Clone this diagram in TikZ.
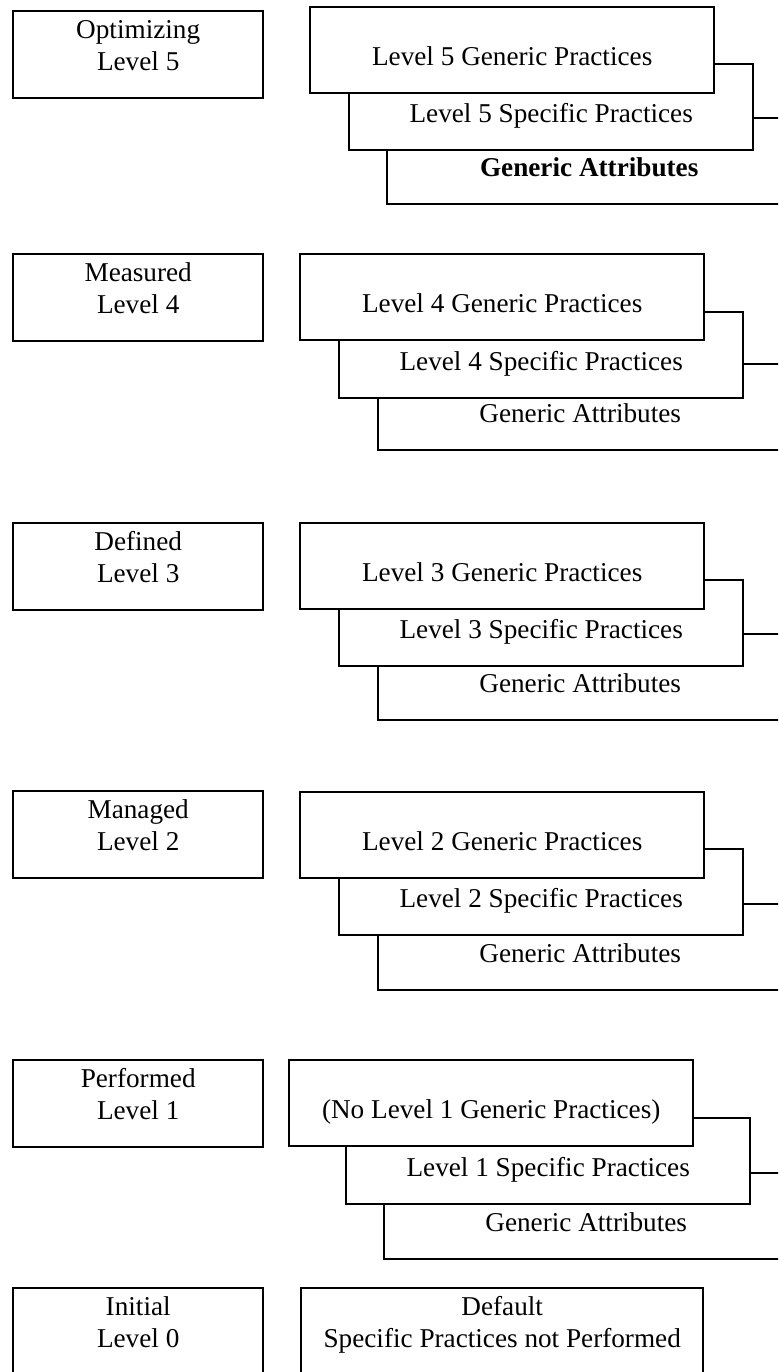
\documentclass[tikz,border=0pt]{standalone}
\usepackage{fontspec}
\setmainfont{Liberation Serif}
\tikzset{
  stage/.style={draw, line width=1.2pt, fill=white, anchor=north west, inner sep=0pt,
    text width=125pt, align=flush center, text height=13.75pt, text depth=29.75pt},
  practice/.style={draw, line width=1.2pt, fill=white, anchor=north west, inner sep=0pt,
    minimum width=202pt, text height=29pt, text depth=14pt}
}
\begin{document}
\begin{tikzpicture}[x=0.5pt, y=-0.5pt, every node/.style={font=\fontsize{13.6pt}{15.75pt}\selectfont}]
\useasboundingbox (0,0) rectangle (778,1372);
\clip (0,0) rectangle (778,1372);

    \node [stage] (opt) at (12,10) {Optimizing\\Level 5};
    \node [practice] (ga5) at (386,117) {\textbf{Generic Attributes}};
    \node [practice] (sp5) at (348,63) {Level 5 Specific Practices};
    \node [practice] (gp5) at (309,6) {Level 5 Generic Practices};

    \node [stage] (meas) at (12,253) {Measured\\Level 4};
    \node [practice] (ga4) at (377,363) {Generic Attributes};
    \node [practice] (sp4) at (338,311) {Level 4 Specific Practices};
    \node [practice] (gp4) at (299,253) {Level 4 Generic Practices};

    \node [stage] (def) at (12,522) {Defined\\Level 3};
    \node [practice] (ga3) at (377,633) {Generic Attributes};
    \node [practice] (sp3) at (338,579) {Level 3 Specific Practices};
    \node [practice] (gp3) at (299,522) {Level 3 Generic Practices};

    \node [stage] (man) at (12,790) {Managed\\Level 2};
    \node [practice] (ga2) at (377,903) {Generic Attributes};
    \node [practice] (sp2) at (338,848) {Level 2 Specific Practices};
    \node [practice] (gp2) at (299,791) {Level 2 Generic Practices};

    \node [stage] (perf) at (12,1059) {Performed\\Level 1};
    \node [practice] (ga1) at (383,1172) {Generic Attributes};
    \node [practice] (sp1) at (345,1117) {Level 1 Specific Practices};
    \node [practice] (gp1) at (288,1059) {(No Level 1 Generic Practices)};

    \node [stage, text depth=40pt] (init) at (12,1287) {Initial\\Level 0};
    \node [stage, text width=201pt, text depth=40pt] (dflt) at (300,1287) {Default\\Specific Practices not Performed};
\end{tikzpicture}
\end{document}
